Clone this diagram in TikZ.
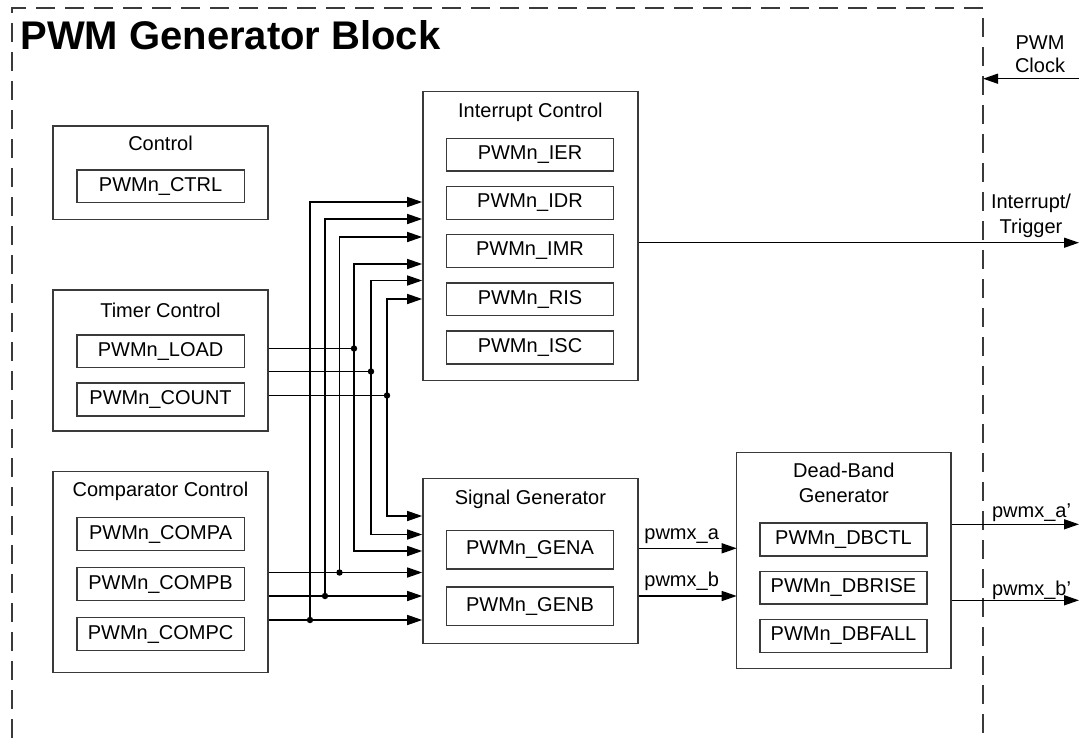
\documentclass[tikz,border=0pt]{standalone}
\usepackage{fontspec}
\setmainfont{Liberation Sans}
\usetikzlibrary{positioning,arrows.meta,calc}
\definecolor{ink}{HTML}{000000}
\definecolor{ink2}{HTML}{3a3a3a}
\tikzset{
  box/.style={draw=ink2,line width=0.7pt,minimum width=107.5pt,inner sep=0pt},
  reg/.style={draw=ink2,line width=0.7pt,minimum width=83.6pt,minimum height=16.4pt,inner sep=0pt,font=\fontsize{10}{12}\selectfont},
  ttl/.style={font=\fontsize{10}{12.5}\selectfont,align=center,inner sep=0pt},
  lab/.style={font=\fontsize{10}{12}\selectfont,inner sep=0pt,anchor=base west},
  wire/.style={line width=0.7pt,draw=ink},
  arr/.style={wire,-{Triangle[length=7.5pt,width=5pt]}},
  tap/.style={circle,fill=ink,inner sep=0pt,minimum size=3.2pt},
  frame/.style={draw=ink2,line width=0.6pt,dash pattern=on 9.5pt off 5pt},
}

\begin{document}
\begin{tikzpicture}[x=0.5pt,y=-0.5pt]
\useasboundingbox (0,0) rectangle (1079,738);
% block frame
\coordinate (fr) at (983,8);
\draw[frame] (12,738) -- (12,8) -- (fr) -- (983,738);
\node[anchor=base west,inner sep=0pt,font=\fontsize{20}{24}\selectfont\bfseries] (hd) at (20,50) {PWM Generator Block};
% left column
\node[box,minimum height=46.6pt] (ctl) at (160.5,172.7) {};
\node[ttl] (ctlT) at (160.5,143.7) {Control};
\node[reg] (ctrl) at (160.6,186.3) {PWMn\_CTRL};
\node[box,minimum height=70.5pt] (tmr) at (160.5,360.5) {};
\node[ttl] (tmrT) at (160.5,310) {Timer Control};
\node[reg] (load) at (160.6,351.2) {PWMn\_LOAD};
\node[reg,below=7pt of load] (count) {PWMn\_COUNT};
\node[box,minimum height=100.5pt] (cmp) at (160.5,572.2) {};
\node[ttl] (cmpT) at (160.5,491.5) {Comparator Control};
\node[reg] (compa) at (160.6,534) {PWMn\_COMPA};
\node[reg,below=7.9pt of compa] (compb) {PWMn\_COMPB};
\node[reg,below=7.9pt of compb] (compc) {PWMn\_COMPC};
% middle column
\node[box,minimum height=144.5pt] (intc) at (530.4,236.2) {};
\node[ttl] (intcT) at (530.4,112) {Interrupt Control};
\node[reg] (ier) at (530,154.7) {PWMn\_IER};
\node[reg,below=7pt of ier] (idr) {PWMn\_IDR};
\node[reg,below=7pt of idr] (imr) {PWMn\_IMR};
\node[reg,below=7pt of imr] (ris) {PWMn\_RIS};
\node[reg,below=7pt of ris] (isc) {PWMn\_ISC};
\node[box,minimum height=82.5pt] (sgen) at (530.4,560.8) {};
\node[ttl] (sgenT) at (530.4,499) {Signal Generator};
\node[reg,minimum height=19.2pt] (gena) at (530,549.8) {PWMn\_GENA};
\node[reg,minimum height=19.2pt,below=8.3pt of gena] (genb) {PWMn\_GENB};
% dead-band
\node[box,minimum width=107.2pt,minimum height=108pt] (dbg) at (843.8,560.7) {};
\node[ttl] (dbgT) at (843.8,483) {Dead-Band\\Generator};
\node[reg] (dbctl) at (843.5,539.5) {PWMn\_DBCTL};
\node[reg,below=7pt of dbctl] (dbrise) {PWMn\_DBRISE};
\node[reg,below=7pt of dbrise] (dbfall) {PWMn\_DBFALL};
% timer taps
\node[tap] (tA) at (354,348.5) {};
\node[tap] (tB) at (371,371.5) {};
\node[tap] (tC) at (387,395.5) {};
\coordinate (tAu) at (354,264); \coordinate (tAd) at (354,551);
\coordinate (tBu) at (371,280.5); \coordinate (tBd) at (371,534.5);
\coordinate (tCu) at (387,299); \coordinate (tCd) at (387,516);
\draw[wire] (tmr.east |- tA) -- (tA.center);
\draw[wire] (tmr.east |- tB) -- (tB.center);
\draw[wire] (tmr.east |- tC) -- (tC.center);
\draw[arr] (tA.center) -- (tAu) -- (tAu -| intc.west); \draw[arr] (tA.center) -- (tAd) -- (tAd -| sgen.west);
\draw[arr] (tB.center) -- (tBu) -- (tBu -| intc.west); \draw[arr] (tB.center) -- (tBd) -- (tBd -| sgen.west);
\draw[arr] (tC.center) -- (tCu) -- (tCu -| intc.west); \draw[arr] (tC.center) -- (tCd) -- (tCd -| sgen.west);
% comparator taps
\node[tap] (cA) at (339.5,572.5) {};
\node[tap] (cB) at (325,596) {};
\node[tap] (cC) at (310,620) {};
\coordinate (cAu) at (339.5,237); \coordinate (cBu) at (325,219); \coordinate (cCu) at (310,202);
\draw[arr] (cmp.east |- cA) -- (sgen.west |- cA);
\draw[arr] (cmp.east |- cB) -- (sgen.west |- cB);
\draw[arr] (cmp.east |- cC) -- (sgen.west |- cC);
\draw[arr] (cA.center) -- (cAu) -- (cAu -| intc.west);
\draw[arr] (cB.center) -- (cBu) -- (cBu -| intc.west);
\draw[arr] (cC.center) -- (cCu) -- (cCu -| intc.west);
% outputs
\coordinate (pa) at (736.7,548.3); \coordinate (pb) at (736.7,596);
\draw[arr] (sgen.east |- pa) -- (pa); \draw[arr] (sgen.east |- pb) -- (pb);
\node[lab] (lpa) at (644,539.5) {pwmx\_a};
\node[lab] (lpb) at (644,586.7) {pwmx\_b};
\coordinate (qa) at (1079,524.3); \coordinate (qb) at (1079,600.3);
\draw[arr] (dbg.east |- qa) -- (qa); \draw[arr] (dbg.east |- qb) -- (qb);
\node[lab] (lqa) at (991.7,517.5) {pwmx\_a'};
\node[lab] (lqb) at (991.7,595) {pwmx\_b'};
\coordinate (irq) at (1079,242.7);
\draw[arr] (intc.east |- irq) -- (irq);
\node[ttl,font=\fontsize{10}{12.5}\selectfont] (lirq) at (1031,215.6) {Interrupt/\\Trigger};
\coordinate (clk) at (1079,78.7);
\draw[arr] (clk) -- (clk -| fr);
\node[ttl,font=\fontsize{10}{11.7}\selectfont] (lclk) at (1040,54.5) {PWM\\Clock};
\end{tikzpicture}
\end{document}
